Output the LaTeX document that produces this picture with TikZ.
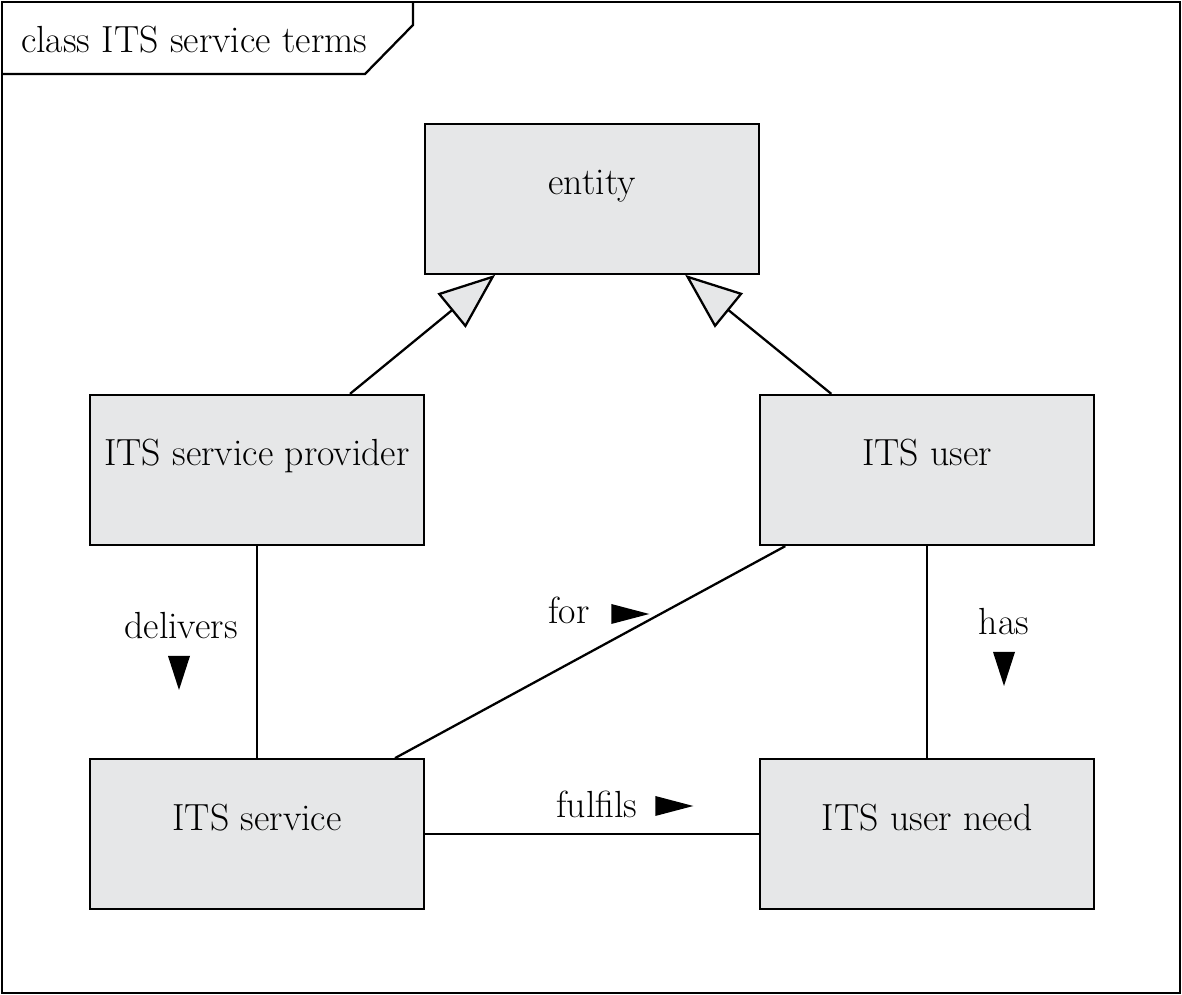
\documentclass[tikz,border=0pt]{standalone}
\usepackage{tikz}
\usetikzlibrary{positioning,calc,arrows.meta,shapes.geometric}
\definecolor{boxgray}{RGB}{230,231,232}

\begin{document}
\begin{tikzpicture}[
  line width=1.3pt,
  font=\fontsize{21.5}{26}\selectfont,
  node distance=4.24cm and 6.68cm,
  termbox/.style={draw, fill=boxgray, minimum width=6.68cm, inner sep=0pt,
    text height=1.42cm, text depth=1.58cm},
  lbl/.style={inner sep=0pt},
  dirdown/.style={isosceles triangle, isosceles triangle stretches, fill,
    inner sep=0pt, shape border rotate=-90, minimum width=0.44cm, minimum height=0.68cm},
  dirright/.style={isosceles triangle, isosceles triangle stretches, fill,
    inner sep=0pt, minimum width=0.4cm, minimum height=0.76cm},
  generalises/.style={-{Triangle[length=1.13cm, width=0.88cm, fill=boxgray]}},
  ]
  \useasboundingbox (0,0) rectangle (23.64,19.9);

  % frame with its tab
  \draw (0.04,0.04) rectangle (23.6,19.86);
  \draw (0.04,18.42) -- (7.3,18.42) -- (8.26,19.4) -- (8.26,19.86);
  \node[lbl, anchor=west] (frametitle) at (0.4,19.1) {class ITS service terms};

  % terms
  \node[termbox] (provider) at (5.14,10.5) {ITS service provider};
  \node[termbox, right=of provider] (user) {ITS user};
  \node[termbox, below=of provider] (service) {ITS service};
  \node[termbox, below=of user] (need) {ITS user need};
  \coordinate (entityfoot) at ($(provider.north)!0.5!(user.north)$);
  \node[termbox, above=2.38cm of entityfoot] (entity) {entity};

  % generalisations
  \draw[generalises] ([xshift=1.86cm]provider.north) -- ([xshift=-1.94cm]entity.south);
  \draw[generalises] ([xshift=-1.92cm]user.north) -- ([xshift=1.86cm]entity.south);

  % associations
  \draw (provider.south) -- (service.north);
  \draw ([xshift=-2.84cm]user.south) -- ([xshift=2.76cm]service.north);
  \draw (user.south) -- (need.north);
  \draw (service.east) -- (need.west);

  % association names
  \node[lbl] (delivers) at (3.62,7.38) {delivers};
  \node[dirdown] (deliversdir) at (3.58,6.62) {};
  \node[lbl] (for) at (11.38,7.7) {for};
  \node[dirright] (fordir) at (12.38,7.62) {};
  \node[lbl] (has) at (20.08,7.46) {has};
  \node[dirdown] (hasdir) at (20.08,6.7) {};
  \node[lbl] (fulfils) at (11.94,3.82) {fulfils};
  \node[dirright] (fulfilsdir) at (13.26,3.78) {};
\end{tikzpicture}
\end{document}
